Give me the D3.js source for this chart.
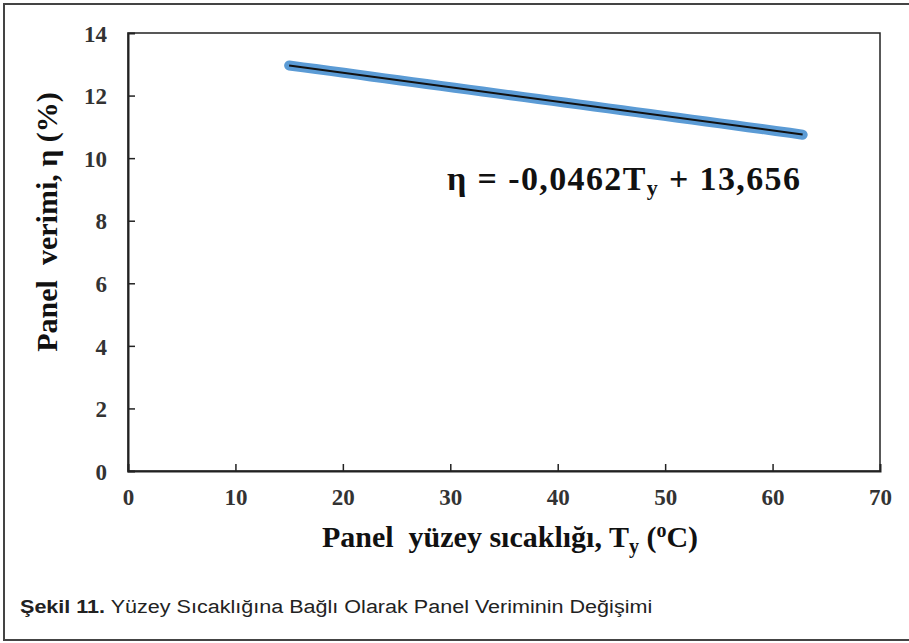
<!DOCTYPE html>
<html>
<head>
<meta charset="utf-8">
<script src="https://cdn.jsdelivr.net/npm/d3@7"></script>
<style>
body{margin:0;background:#fff;}
svg{display:block;}
</style>
</head>
<body>
<div id="chart"></div>
<script>
// veriler
var sicaklik=[15.0,16.3,17.5,18.8,20.1,21.4,22.6,23.9,25.2,26.5,27.8,29.1,30.4,31.7,33.0,34.3,35.6,36.9,38.2,39.5,
	40.8,42.1,43.4,44.7,46.0,47.3,48.6,49.9,51.2,52.5,53.8,55.1,56.4,57.7,59.0,60.3,61.6,62.8]
var verim=[12.96,12.90,12.85,12.79,12.73,12.67,12.61,12.55,12.49,12.43,12.37,12.31,12.25,12.19,12.13,12.07,12.01,11.95,11.89,11.83,
	11.77,11.71,11.65,11.59,11.53,11.47,11.41,11.35,11.29,11.23,11.17,11.11,11.05,10.99,10.93,10.87,10.81,10.75]
var xTicks=[0,10,20,30,40,50,60,70]
var yTicks=[0,2,4,6,8,10,12,14]
var egim=-0.0462, kesim=13.656

var W=909, H=643
var svg=d3.select('#chart').append('svg').attr('width',W).attr('height',H)

// dis cerceve
svg.append('rect').attr('x',4).attr('y',4).attr('width',W+10).attr('height',H-7)
	.attr('fill','none').attr('stroke','#444').attr('stroke-width',2)

var x=d3.scaleLinear().domain([0,70]).range([128,880])
var y=d3.scaleLinear().domain([0,14]).range([471,33])

// grafik kutusu
svg.append('rect').attr('x',x(0)).attr('y',y(14)).attr('width',x(70)-x(0)).attr('height',y(0)-y(14))
	.attr('fill','none').attr('stroke','#222').attr('stroke-width',1.5)

var tickFont='Liberation Serif, Times New Roman, serif'

var xAxis=svg.append('g').attr('transform','translate(0,'+y(0)+')')
	.call(d3.axisBottom(x).tickValues(xTicks).tickSize(-7).tickPadding(18).tickFormat(d3.format('d')))
var yAxis=svg.append('g').attr('transform','translate('+x(0)+',0)')
	.call(d3.axisLeft(y).tickValues(yTicks).tickSize(-7).tickPadding(21).tickFormat(d3.format('d')))
;[xAxis,yAxis].forEach(function(a){
	a.attr('font-family',tickFont).attr('font-size',23).attr('font-weight','bold')
	a.select('.domain').attr('stroke','#222').attr('stroke-width',2)
	a.selectAll('.tick line').attr('stroke','#222').attr('stroke-width',1.5)
	a.selectAll('.tick text').attr('fill','#333')
})
yAxis.selectAll('.tick text').attr('dy','0.36em')
// 0 ve 70 uclarindaki tick cizgileri kutuyla cakisir, gizle
xAxis.selectAll('.tick').filter(function(d){return d===0||d===70}).select('line').remove()
yAxis.selectAll('.tick').filter(function(d){return d===0||d===14}).select('line').remove()

// veri serisi (mavi)
var pts=sicaklik.map(function(t,i){return [t,verim[i]]})
svg.append('path').datum(pts)
	.attr('d',d3.line().x(function(d){return x(d[0])}).y(function(d){return y(d[1])}))
	.attr('fill','none').attr('stroke','#5b9bd5').attr('stroke-width',10)
	.attr('stroke-linecap','round').attr('stroke-linejoin','round')

// egilim cizgisi
var t0=d3.min(sicaklik), t1=d3.max(sicaklik)
svg.append('line')
	.attr('x1',x(t0)).attr('y1',y(kesim+egim*t0))
	.attr('x2',x(t1)).attr('y2',y(kesim+egim*t1))
	.attr('stroke','#111').attr('stroke-width',2)

// denklem
var eq=svg.append('text').attr('x',447).attr('y',190)
	.attr('font-family',tickFont).attr('font-weight','bold').attr('font-size','34px').attr('fill','#111')
	.attr('textLength',353).attr('lengthAdjust','spacing')
eq.append('tspan').text('η = -0,0462T')
eq.append('tspan').attr('font-size','22px').attr('dy',5).text('y')
eq.append('tspan').attr('dy',-5).text(' + 13,656')

// eksen basliklari
var xl=svg.append('text').attr('x',510).attr('y',547).attr('text-anchor','middle')
	.attr('font-family',tickFont).attr('font-weight','bold').attr('font-size','30px').attr('fill','#111')
	.attr('xml:space','preserve')
xl.append('tspan').text('Panel  yüzey sıcaklığı, T')
xl.append('tspan').attr('font-size','20px').attr('dy',6).text('y')
xl.append('tspan').attr('dy',-6).text(' (')
xl.append('tspan').attr('font-size','20px').attr('dy',-10).text('o')
xl.append('tspan').attr('dy',10).text('C)')

svg.append('text').attr('transform','translate(57,222) rotate(-90)').attr('text-anchor','middle')
	.attr('font-family',tickFont).attr('font-weight','bold').attr('font-size','30px').attr('fill','#111')
	.attr('xml:space','preserve')
	.text('Panel  verimi, η (%)')

// sekil yazisi
var cap=svg.append('text').attr('transform','translate(20,613) scale(1.135,1)')
	.attr('font-family','Liberation Sans, Arial, sans-serif')
	.attr('font-size','19px').attr('fill','#222')
cap.append('tspan').attr('font-weight','bold').text('Şekil 11.')
cap.append('tspan').text(' Yüzey Sıcaklığına Bağlı Olarak Panel Veriminin Değişimi')
</script>
</body>
</html>
